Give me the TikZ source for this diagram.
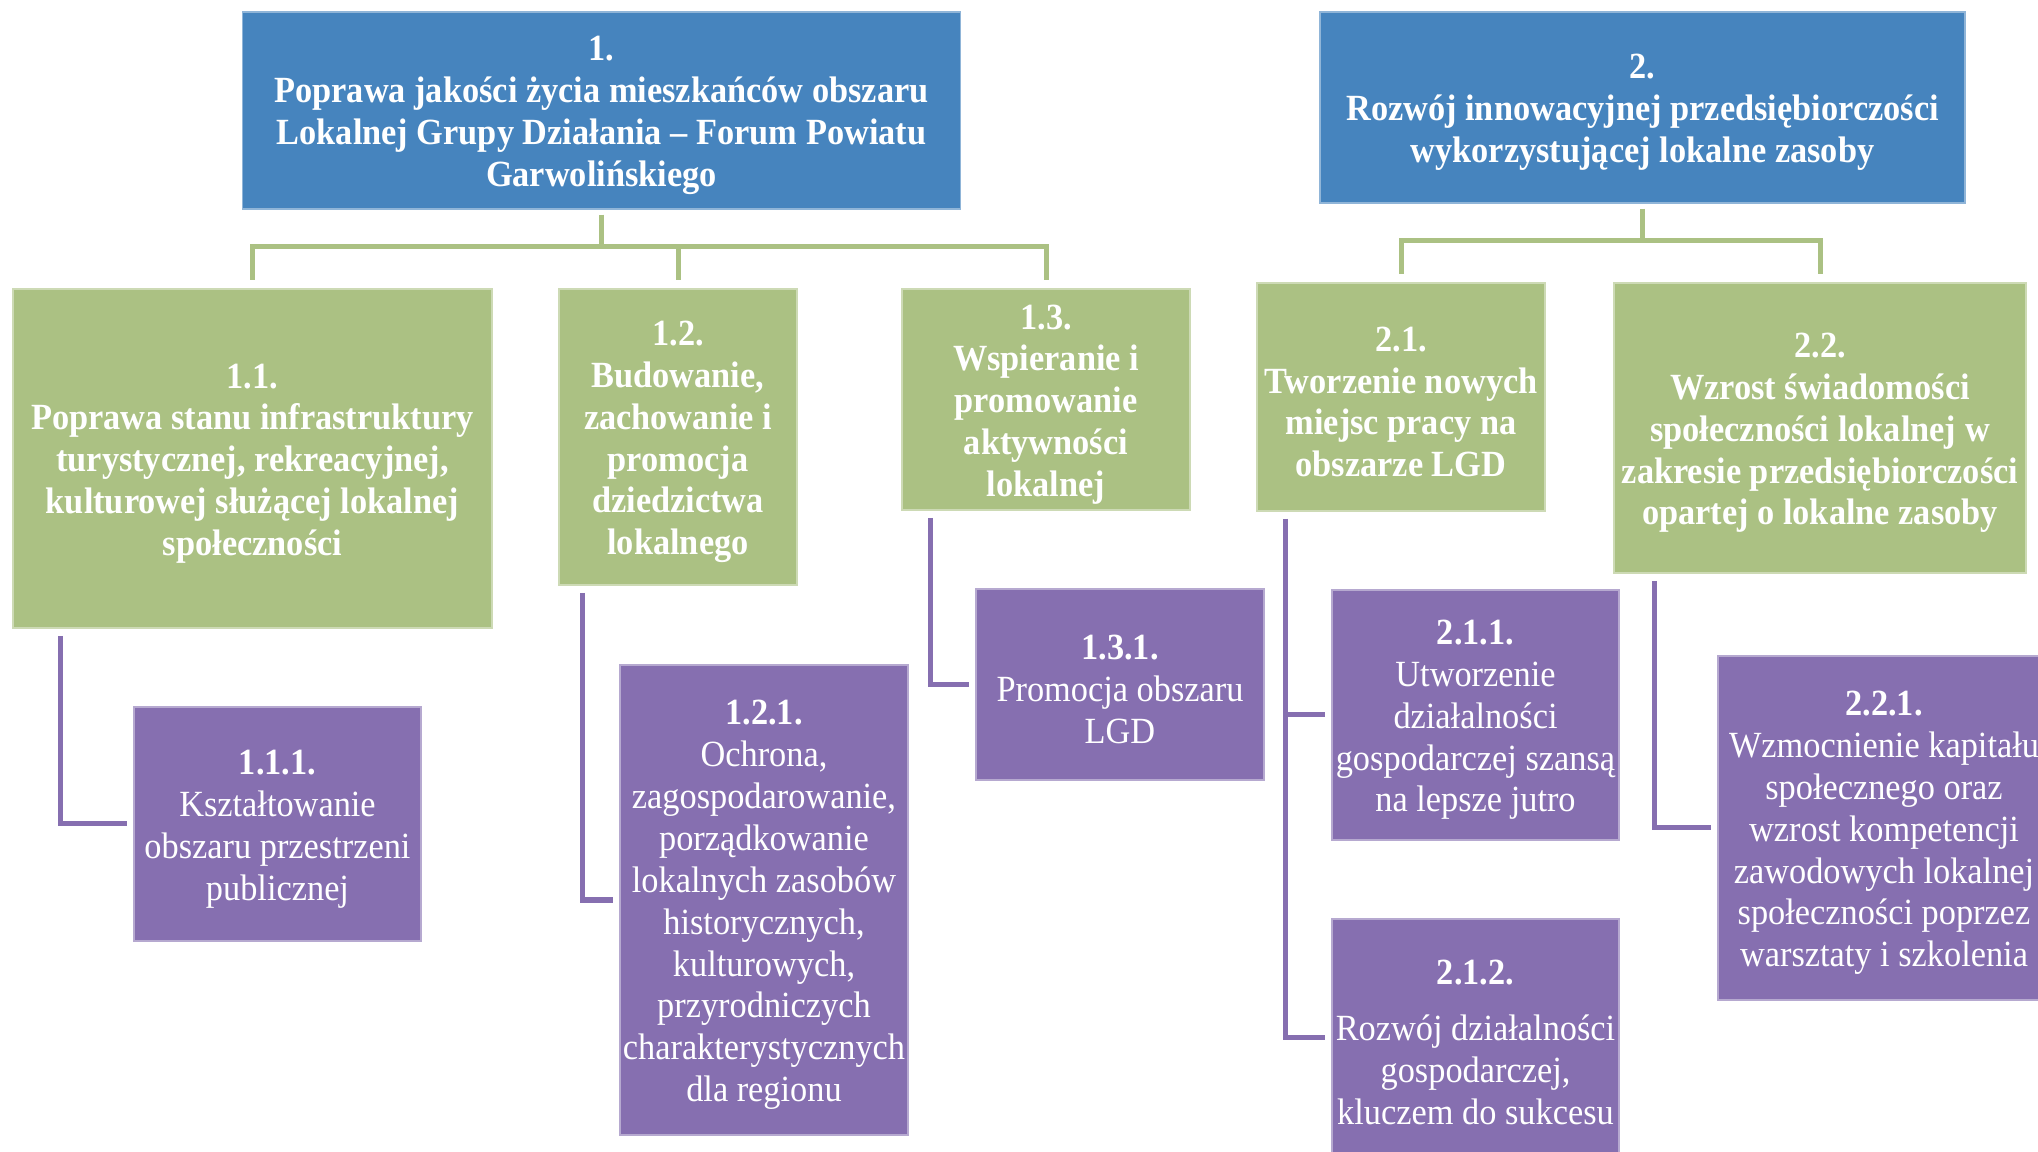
\documentclass[tikz,border=0pt]{standalone}
\usepackage{fontspec}
\setmainfont{Liberation Serif}[FakeStretch=0.93]
\usetikzlibrary{calc}
\definecolor{goalblue}{RGB}{70,132,190}
\definecolor{aimgreen}{RGB}{171,193,131}
\definecolor{actpurple}{RGB}{134,111,176}

\begin{document}
\begin{tikzpicture}[x=0.01cm, y=-0.01cm,
    txt/.style={text=white, align=center, inner sep=0pt, yshift=-0.05cm,
      font=\fontsize{10.5}{11.9}\selectfont},
    btxt/.style={txt, font=\fontsize{10.5}{11.9}\selectfont\bfseries},
    goal/.style={rectangle, fill=goalblue, draw=goalblue!60!white, line width=0.4pt},
    aim/.style={rectangle, fill=aimgreen, draw=aimgreen!60!white, line width=0.4pt},
    act/.style={rectangle, fill=actpurple, draw=actpurple!60!white, line width=0.4pt},
    gline/.style={draw=aimgreen, line width=0.05cm, shorten <=0.05cm, shorten >=0.08cm},
    pline/.style={draw=actpurple, line width=0.05cm, shorten <=0.07cm, shorten >=0.06cm}]
    \useasboundingbox (0,0) rectangle (2038,1152);

    % main goals
    \node[goal, minimum width=7.17cm, minimum height=1.97cm,
        label={[btxt]center:{1.\\Poprawa jakości życia mieszkańców obszaru\\Lokalnej Grupy Działania – Forum Powiatu\\Garwolińskiego}}]
        (n1) at (601.5,110.5) {};
    \node[goal, minimum width=6.45cm, minimum height=1.91cm,
        label={[btxt]center:{2.\\Rozwój innowacyjnej przedsiębiorczości\\wykorzystującej lokalne zasoby}}]
        (n2) at (1642.5,107.5) {};

    % specific aims
    \node[aim, minimum width=4.79cm, minimum height=3.39cm,
        label={[btxt]center:{1.1.\\Poprawa stanu infrastruktury\\turystycznej, rekreacyjnej,\\kulturowej służącej lokalnej\\społeczności}}]
        (n11) at (252.5,458.5) {};
    \node[aim, minimum width=2.38cm, minimum height=2.96cm,
        label={[btxt]center:{1.2.\\Budowanie,\\zachowanie i\\promocja\\dziedzictwa\\lokalnego}}]
        (n12) at (678,437) {};
    \node[aim, minimum width=2.88cm, minimum height=2.21cm,
        label={[btxt]center:{1.3.\\Wspieranie i\\promowanie\\aktywności\\lokalnej}}]
        (n13) at (1046,399.5) {};
    \node[aim, minimum width=2.88cm, minimum height=2.28cm,
        label={[btxt]center:{2.1.\\Tworzenie nowych\\miejsc pracy na\\obszarze LGD}}]
        (n21) at (1401,397) {};
    \node[aim, minimum width=4.12cm, minimum height=2.90cm,
        label={[btxt]center:{2.2.\\Wzrost świadomości\\społeczności lokalnej w\\zakresie przedsiębiorczości\\opartej o lokalne zasoby}}]
        (n22) at (1820,428) {};

    % actions
    \node[act, minimum width=2.87cm, minimum height=2.34cm,
        label={[txt]center:{\textbf{1.1.1.}\\Kształtowanie\\obszaru przestrzeni\\publicznej}}]
        (n111) at (277.5,824) {};
    \node[act, minimum width=2.88cm, minimum height=4.70cm,
        label={[txt]center:{\textbf{1.2.1.}\\Ochrona,\\zagospodarowanie,\\porządkowanie\\lokalnych zasobów\\historycznych,\\kulturowych,\\przyrodniczych\\charakterystycznych\\dla regionu}}]
        (n121) at (764,900) {};
    \node[act, minimum width=2.88cm, minimum height=1.91cm,
        label={[txt]center:{\textbf{1.3.1.}\\Promocja obszaru\\LGD}}]
        (n131) at (1120,684.5) {};
    \node[act, minimum width=2.87cm, minimum height=2.50cm,
        label={[txt]center:{\textbf{2.1.1.}\\Utworzenie\\działalności\\gospodarczej szansą\\na lepsze jutro}}]
        (n211) at (1475.5,715) {};
    \node[act, minimum width=2.87cm, minimum height=2.37cm,
        label={[txt]center:{\textbf{2.1.2.}\\[4pt]Rozwój działalności\\gospodarczej,\\kluczem do sukcesu}}]
        (n212) at (1475.5,1037.5) {};
    \node[act, minimum width=3.32cm, minimum height=3.44cm,
        label={[txt]center:{\textbf{2.2.1.}\\Wzmocnienie kapitału\\społecznego oraz\\wzrost kompetencji\\zawodowych lokalnej\\społeczności poprzez\\warsztaty i szkolenia}}]
        (n221) at (1884,828) {};

    % tree lines
    \coordinate (bar1) at (602,247);
    \coordinate (bar2) at (1642,241);
    \foreach \c in {n11,n12,n13}
        \draw[gline] (n1.south) -- (n1.south |- bar1) -| (\c.north);
    \foreach \c in {n21,n22}
        \draw[gline] (n2.south) -- (n2.south |- bar2) -| (\c.north);

    % action lines
    \draw[pline] ($(n11.south west)!0.1!(n11.south east)$) |- (n111.west);
    \draw[pline] ($(n12.south west)!0.1!(n12.south east)$) |- (n121.west);
    \draw[pline] ($(n13.south west)!0.1!(n13.south east)$) |- (n131.west);
    \draw[pline] ($(n21.south west)!0.1!(n21.south east)$) |- (n211.west);
    \draw[pline] ($(n21.south west)!0.1!(n21.south east)$) |- (n212.west);
    \draw[pline] ($(n22.south west)!0.1!(n22.south east)$) |- (n221.west);
\end{tikzpicture}
\end{document}
